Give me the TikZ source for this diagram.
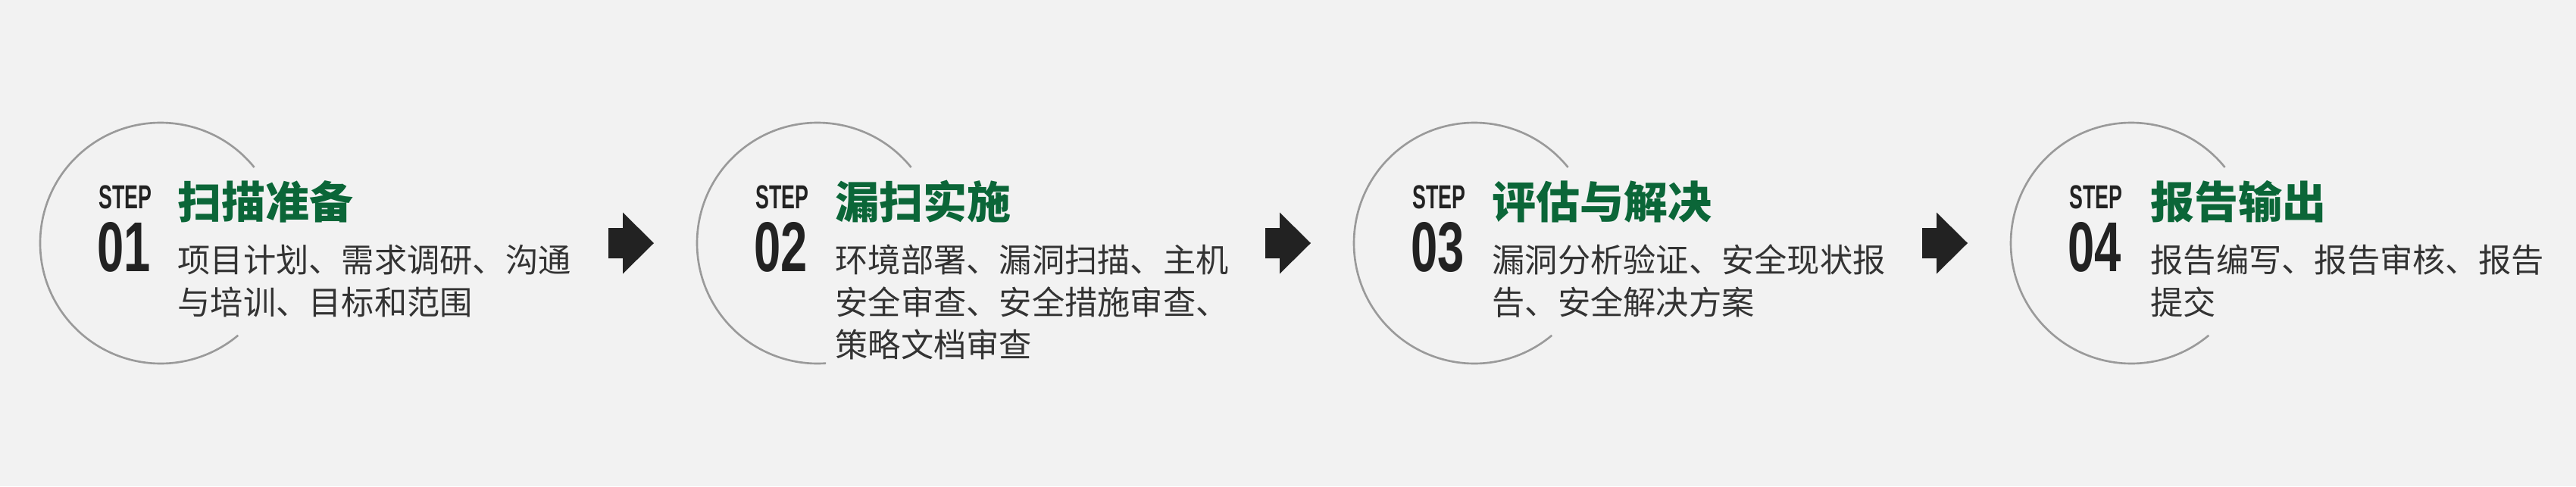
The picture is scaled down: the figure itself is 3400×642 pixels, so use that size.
\documentclass[tikz,border=0pt]{standalone}
\usepackage{fontspec}
\usepackage{graphicx}
\newfontfamily\cjk{Noto Sans CJK SC}
\newfontfamily\tagfont{Liberation Sans}
\definecolor{bgcol}{HTML}{F2F2F2}
\definecolor{ringcol}{HTML}{9A9A9A}
\definecolor{titlecol}{HTML}{0B6638}
\definecolor{bodycol}{HTML}{333333}
\definecolor{numcol}{HTML}{222222}
\newcommand{\squeeze}[2]{\scalebox{#1}[1]{#2}}
\tikzset{ring/.style={draw=ringcol, line width=0.75pt}}
\tikzset{steptag/.style={anchor=base west, inner sep=0pt, text=numcol, font=\tagfont\bfseries\fontsize{12.5}{12.5}\selectfont}}
\tikzset{stepnum/.style={anchor=base west, inner sep=0pt, text=numcol, font=\tagfont\bfseries\fontsize{26.5}{26.5}\selectfont}}
\tikzset{steptitle/.style={anchor=base west, inner sep=0pt, text=titlecol, font=\cjk\bfseries\fontsize{16.5}{16.5}\selectfont}}
\tikzset{stepbody/.style={anchor=base west, inner sep=0pt, align=left, text=bodycol, font=\cjk\fontsize{12.3}{15.9}\selectfont}}
\tikzset{nextarrow/.style={fill=numcol}}

\begin{document}
\begin{tikzpicture}[x=0.1mm, y=0.1mm]
  \fill[bgcol] (0,0) rectangle (3400,642);
  \useasboundingbox (0,0) rectangle (3400,642);

  % step 1
  \coordinate (s1c) at (212,321);
  \draw[ring] (s1c) ++(39:159) arc[start angle=39, end angle=310, radius=159];
  \node[steptag] (s1tag) at (130,367) {\squeeze{0.61}{STEP}};
  \node[stepnum] (s1num) at (128,284) {\squeeze{0.68}{01}};
  \node[steptitle] (s1title) at (234,354) {扫描准备};
  \node[stepbody] (s1body) at (234,227) {项目计划、需求调研、沟通\\与培训、目标和范围};

  % step 2
  \coordinate (s2c) at (1079,321);
  \draw[ring] (s2c) ++(39:159) arc[start angle=39, end angle=274, radius=159];
  \node[steptag] (s2tag) at (997,367) {\squeeze{0.61}{STEP}};
  \node[stepnum] (s2num) at (995,284) {\squeeze{0.68}{02}};
  \node[steptitle] (s2title) at (1102,354) {漏扫实施};
  \node[stepbody] (s2body) at (1102,171) {环境部署、漏洞扫描、主机\\安全审查、安全措施审查、\\策略文档审查};

  % step 3
  \coordinate (s3c) at (1946,321);
  \draw[ring] (s3c) ++(39:159) arc[start angle=39, end angle=310, radius=159];
  \node[steptag] (s3tag) at (1864,367) {\squeeze{0.61}{STEP}};
  \node[stepnum] (s3num) at (1862,284) {\squeeze{0.68}{03}};
  \node[steptitle] (s3title) at (1969,354) {评估与解决};
  \node[stepbody] (s3body) at (1969,227) {漏洞分析验证、安全现状报\\告、安全解决方案};

  % step 4
  \coordinate (s4c) at (2813,321);
  \draw[ring] (s4c) ++(39:159) arc[start angle=39, end angle=310, radius=159];
  \node[steptag] (s4tag) at (2731,367) {\squeeze{0.61}{STEP}};
  \node[stepnum] (s4num) at (2729,284) {\squeeze{0.68}{04}};
  \node[steptitle] (s4title) at (2838,354) {报告输出};
  \node[stepbody] (s4body) at (2838,227) {报告编写、报告审核、报告\\提交};

  % arrows between the steps
  \coordinate (a12) at (803,321);
  \coordinate (a23) at (1670,321);
  \coordinate (a34) at (2537,321);
  \fill[nextarrow] (a12) ++(0,20) -- ++(19,0) -- ++(0,20.5) -- ++(41,-40.5) -- ++(-41,-40.5) -- ++(0,20.5) -- ++(-19,0) -- cycle;
  \fill[nextarrow] (a23) ++(0,20) -- ++(19,0) -- ++(0,20.5) -- ++(41,-40.5) -- ++(-41,-40.5) -- ++(0,20.5) -- ++(-19,0) -- cycle;
  \fill[nextarrow] (a34) ++(0,20) -- ++(19,0) -- ++(0,20.5) -- ++(41,-40.5) -- ++(-41,-40.5) -- ++(0,20.5) -- ++(-19,0) -- cycle;
\end{tikzpicture}
\end{document}
